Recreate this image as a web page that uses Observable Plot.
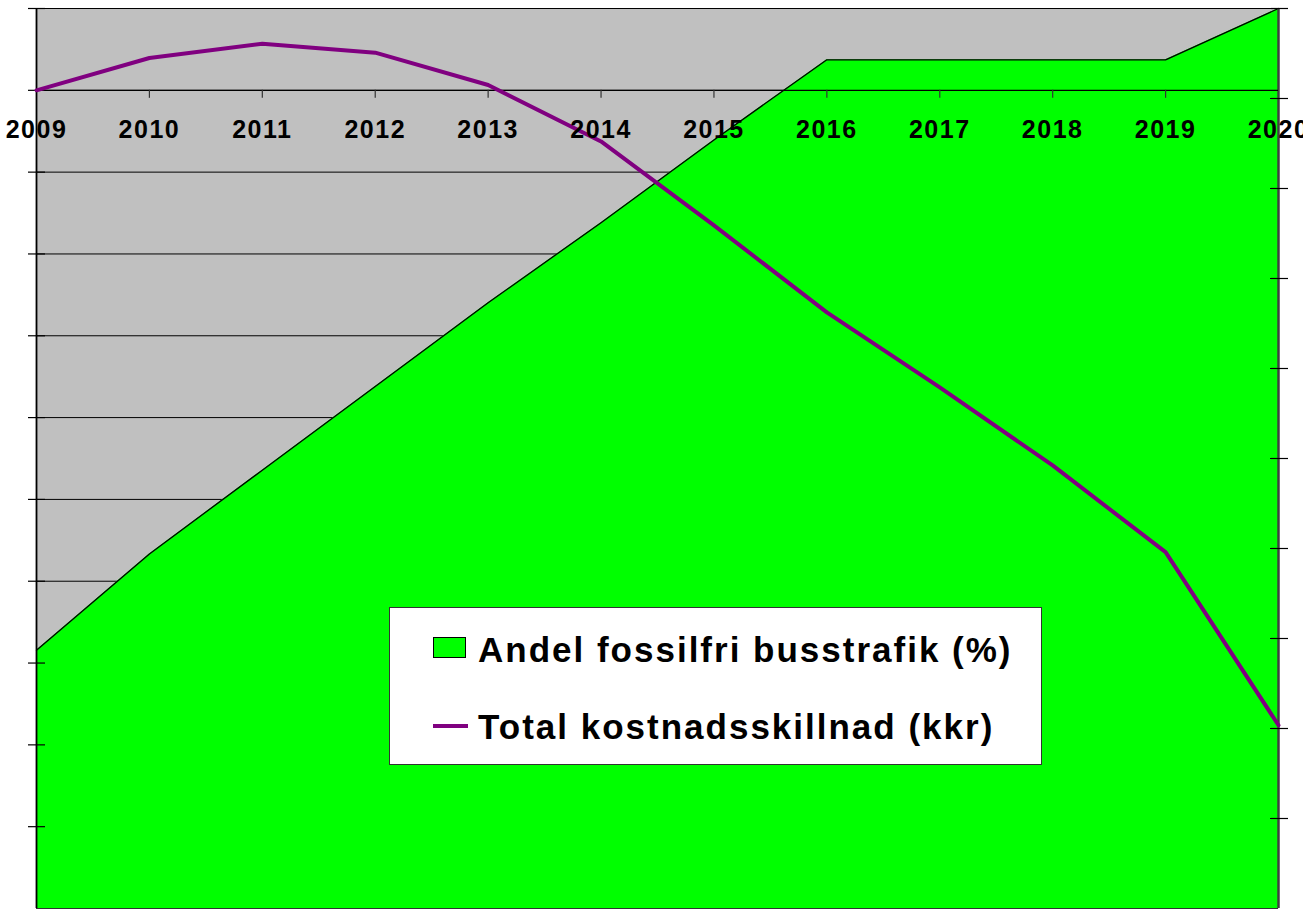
<!DOCTYPE html>
<html>
<head>
<meta charset="utf-8">
<script src="https://cdn.jsdelivr.net/npm/d3@7"></script>
<script src="https://cdn.jsdelivr.net/npm/@observablehq/plot@0.6"></script>
<style>
  html, body { margin: 0; padding: 0; background: #fff; overflow: hidden; }
  #chart { position: relative; width: 1303px; height: 909px; font-family: "Liberation Sans", Arial, sans-serif; }
  #chart svg { position: absolute; left: 0; top: 0; }
  #legend { position: absolute; left: 389px; top: 607px; width: 651px; height: 156px; background: #fff; border: 1px solid #333; }
  .lab { position: absolute; left: 88px; font-weight: bold; font-size: 35px; letter-spacing: 2px; line-height: 35px; white-space: nowrap; color: #000; }
  .sw-area { position: absolute; left: 43px; top: 29px; width: 33px; height: 21px; box-sizing: border-box; border: 1px solid #000; background: #00ff00; }
  .sw-line { position: absolute; left: 43px; top: 116px; width: 35px; height: 4px; background: #800080; }
</style>
</head>
<body>
<div id="chart"></div>
<script>
// ---- data ----
const years = [2009, 2010, 2011, 2012, 2013, 2014, 2015, 2016, 2017, 2018, 2019, 2020];
const andelFossilfri = [28.7, 39.4, 48.7, 58.0, 67.3, 76.2, 85.4, 94.3, 94.3, 94.3, 94.3, 100];
const kostnadsskillnad = [0, 79, 114, 92, 13, -125, -330, -543, -726, -917, -1129, -1552];
const leftTicks = [200, 0, -200, -400, -600, -800, -1000, -1200, -1400, -1600, -1800];
const rightTicks = [10, 20, 30, 40, 50, 60, 70, 80, 90, 100];
const yearLabels = ["2009", "2010", "2011", "2012", "2013", "2014", "2015", "2016", "2017", "2018", "2019", "2020"];
const legendLabels = ["Andel fossilfri busstrafik (%)", "Total kostnadsskillnad (kkr)"];

const data = years.map((year, i) => ({year, andel: andelFossilfri[i], kostnad: kostnadsskillnad[i], label: yearLabels[i]}));

const W = 1303, H = 909;
const dims = {width: W, height: H, marginLeft: 36, marginRight: 25, marginTop: 8, marginBottom: 1};
const xOpt = {domain: [2009, 2020], axis: null};
const yLeft = {domain: [-2000, 200], axis: null};
const yRight = {domain: [0, 100], axis: null};
const FONT = "Liberation Sans, Arial, sans-serif";

const chart = document.getElementById("chart");

// Layer 1: gray plot background + gridlines (left axis scale)
chart.appendChild(Plot.plot({
  ...dims, x: xOpt, y: yLeft,
  style: {background: "transparent"},
  marks: [
    Plot.frame({fill: "#c0c0c0", stroke: "none"}),
    Plot.ruleY(leftTicks, {stroke: "#000", strokeWidth: 1})
  ]
}));

// Layer 2: green area (right axis scale, %)
chart.appendChild(Plot.plot({
  ...dims, x: xOpt, y: yRight,
  style: {background: "transparent"},
  marks: [
    Plot.areaY(data, {x: "year", y: "andel", fill: "#00ff00"}),
    Plot.lineY(data, {x: "year", y: "andel", stroke: "#000", strokeWidth: 1.3}),
    Plot.ruleX([2020], {stroke: "#404040", strokeWidth: 2.5}),
    Plot.ruleY(rightTicks, {x1: 2020, x2: 2020, insetLeft: -8, insetRight: -10, stroke: "#000", strokeWidth: 1.2})
  ]
}));

// Layer 3: axes, cost line, year labels (left axis scale)
chart.appendChild(Plot.plot({
  ...dims, x: xOpt, y: yLeft,
  style: {background: "transparent", letterSpacing: "1.5px", fontFamily: FONT},
  marks: [
    Plot.ruleY([-2000], {stroke: "#333", strokeWidth: 1}),
    Plot.ruleY([0], {stroke: "#000", strokeWidth: 1.2}),
    Plot.ruleX(years.slice(1, -1), {y1: 0, y2: 0, insetBottom: -8, stroke: "#333", strokeWidth: 1.2}),
    Plot.ruleX([2009], {stroke: "#000", strokeWidth: 1.8}),
    Plot.ruleY(leftTicks, {x1: 2009, x2: 2009, insetLeft: -8, insetRight: -9, stroke: "#000", strokeWidth: 1.2}),
    Plot.lineY(data, {x: "year", y: "kostnad", stroke: "#800080", strokeWidth: 4}),
    Plot.text(data, {x: "year", y: 0, text: "label", dy: 48, lineAnchor: "bottom", fontSize: 25, fontWeight: "bold", fill: "#000", fontFamily: FONT})
  ]
}));

// Legend
const legend = document.createElement("div");
legend.id = "legend";
legend.innerHTML = `
  <div class="sw-area"></div>
  <div class="lab" style="top:24px">${legendLabels[0]}</div>
  <div class="sw-line"></div>
  <div class="lab" style="top:101px">${legendLabels[1]}</div>`;
chart.appendChild(legend);
</script>
</body>
</html>
